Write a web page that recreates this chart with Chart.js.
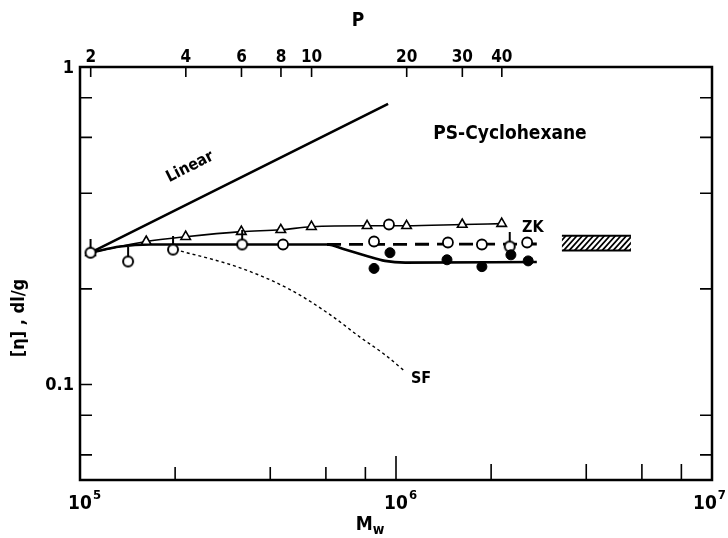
<!DOCTYPE html>
<html>
<head>
<meta charset="utf-8">
<script src="https://cdn.jsdelivr.net/npm/chart.js@4"></script>
<style>
  body { margin: 0; background: #fff; }
  #wrap { width: 728px; height: 538px; }
</style>
</head>
<body>
<div id="wrap"><canvas id="myChart" width="728" height="538"></canvas></div>
<script>
// Mw in g/mol, [eta] in dl/g
const linearMw = [1.08e5, 9.44e5];
const linearEta = [0.260, 0.765];

const zkMw = [1.08e5, 1.62e5, 2.16e5, 3.24e5, 4.32e5, 5.4e5, 8.1e5, 1.08e6, 1.62e6, 2.16e6];
const zkEta = [0.260, 0.282, 0.292, 0.303, 0.307, 0.314, 0.316, 0.316, 0.319, 0.321];

const theoryMw = [1.08e5, 1.34e5, 1.67e5, 2.4e5, 4.97e5, 6.05e5, 6.9e5, 7.98e5, 9.23e5, 1.07e6, 2.79e6];
const theoryEta = [0.260, 0.272, 0.276, 0.276, 0.276, 0.276, 0.266, 0.255, 0.245, 0.242, 0.243];

const dashMw = [6.05e5, 2.79e6];
const dashEta = [0.276, 0.277];

const sfMw = [2.0e5, 3.21e5, 4.62e5, 6.18e5, 7.69e5, 9.23e5, 1.067e6];
const sfEta = [0.266, 0.233, 0.199, 0.166, 0.141, 0.124, 0.110];

const openMw = [4.39e5, 8.52e5, 9.5e5, 1.46e6, 1.87e6, 2.60e6];
const openEta = [0.276, 0.282, 0.319, 0.280, 0.276, 0.280];

const pipMw = [1.08e5, 1.42e5, 1.97e5, 3.26e5, 2.29e6];
const pipEta = [0.260, 0.244, 0.266, 0.276, 0.272];

const filledMw = [8.52e5, 9.57e5, 1.45e6, 1.87e6, 2.31e6, 2.62e6];
const filledEta = [0.232, 0.260, 0.247, 0.235, 0.256, 0.245];

// theta-solvent range, drawn as a hatched bar
const hatchMw = [3.35e6, 5.54e6];
const hatchEta = [0.264, 0.294];

// axes
const mwRange = [1e5, 1e7];
const etaRange = [0.05, 1];
const pRange = [1.85, 185];
const mwTicks = [2e5, 4e5, 6e5, 8e5, 1e6, 2e6, 4e6, 6e6, 8e6];
const mwLabels = [[1e5, "5"], [1e6, "6"], [1e7, "7"]];
const etaTicks = [0.8, 0.6, 0.4, 0.2, 0.1, 0.08, 0.06];
const etaLabels = [[1, "1"], [0.1, "0.1"]];
const pTicks = [2, 4, 6, 8, 10, 20, 30, 40];

const FONT = '"Liberation Sans Narrow", "DejaVu Sans Condensed", "Arial Narrow", sans-serif';

function xy(mw, eta) {
  return mw.map((m, i) => ({ x: m, y: eta[i] }));
}

// open circle with a short stem on top
function pipCircle() {
  const c = document.createElement("canvas");
  c.width = 14; c.height = 28;
  const g = c.getContext("2d");
  g.strokeStyle = "#000"; g.lineWidth = 2;
  g.beginPath(); g.moveTo(7, 0); g.lineTo(7, 9); g.stroke();
  g.beginPath(); g.arc(7, 14, 5, 0, Math.PI * 2);
  g.fillStyle = "#fff"; g.fill(); g.stroke();
  return c;
}

const frame = {
  id: "frame",
  beforeDatasetsDraw(chart) {
    const { ctx, scales } = chart;
    const x = scales.x, y = scales.y;
    const x1 = x.getPixelForValue(hatchMw[0]), x2 = x.getPixelForValue(hatchMw[1]);
    const y1 = y.getPixelForValue(hatchEta[1]), y2 = y.getPixelForValue(hatchEta[0]);
    const h = y2 - y1;
    ctx.save();
    ctx.strokeStyle = "#000";
    ctx.lineWidth = 1.8;
    ctx.beginPath();
    ctx.rect(x1, y1, x2 - x1, h);
    ctx.clip();
    ctx.beginPath();
    for (let s = x1 - h; s < x2 + h; s += 5.5) {
      ctx.moveTo(s, y2);
      ctx.lineTo(s + h * 0.9, y1);
    }
    ctx.stroke();
    ctx.restore();
    ctx.save();
    ctx.lineWidth = 2;
    ctx.beginPath();
    ctx.moveTo(x1, y1); ctx.lineTo(x2, y1);
    ctx.moveTo(x1, y2); ctx.lineTo(x2, y2);
    ctx.stroke();
    ctx.restore();
  },
  afterDraw(chart) {
    const { ctx, chartArea: a, scales } = chart;
    const x = scales.x, y = scales.y, p = scales.p;
    ctx.save();
    ctx.strokeStyle = "#000";
    ctx.fillStyle = "#000";
    ctx.lineWidth = 2.5;
    ctx.strokeRect(a.left, a.top, a.right - a.left, a.bottom - a.top);

    ctx.lineWidth = 1.6;
    ctx.beginPath();
    mwTicks.forEach((v) => {
      const px = x.getPixelForValue(v);
      const len = v === 1e6 ? 24 : (v > 1e6 ? 16 : 13);
      ctx.moveTo(px, a.bottom); ctx.lineTo(px, a.bottom - len);
    });
    etaTicks.forEach((v) => {
      const py = y.getPixelForValue(v);
      ctx.moveTo(a.left, py); ctx.lineTo(a.left + 12, py);
      if (v !== 0.1) { ctx.moveTo(a.right, py); ctx.lineTo(a.right - 12, py); }
    });
    pTicks.forEach((v) => {
      const px = p.getPixelForValue(v);
      ctx.moveTo(px, a.top); ctx.lineTo(px, a.top + 10);
    });
    ctx.stroke();

    // tick labels, 10^n with the mantissa centred on the tick
    ctx.textBaseline = "alphabetic";
    mwLabels.forEach(([v, e]) => {
      let px = x.getPixelForValue(v);
      ctx.font = "bold 19px " + FONT;
      const w = ctx.measureText("10").width;
      ctx.font = "bold 13px " + FONT;
      const we = ctx.measureText(e).width;
      px = Math.min(px, chart.width - we - w / 2 - 3);
      ctx.textAlign = "left";
      ctx.font = "bold 19px " + FONT;
      ctx.fillText("10", px - w / 2, a.bottom + 29);
      ctx.font = "bold 13px " + FONT;
      ctx.fillText(e, px + w / 2 + 1, a.bottom + 19);
    });
    ctx.font = "bold 18px " + FONT;
    ctx.textAlign = "right";
    ctx.textBaseline = "middle";
    etaLabels.forEach(([v, t]) => {
      ctx.fillText(t, a.left - 6, y.getPixelForValue(v) + 1);
    });
    ctx.textAlign = "center";
    ctx.textBaseline = "alphabetic";
    ctx.font = "bold 17px " + FONT;
    pTicks.forEach((v) => {
      ctx.fillText(String(v), p.getPixelForValue(v), a.top - 5);
    });

    // axis titles
    ctx.font = "bold 19px " + FONT;
    ctx.fillText("P", 358, 26);
    ctx.textAlign = "left";
    const mW = ctx.measureText("M").width;
    ctx.font = "bold 14px " + FONT;
    const wW = ctx.measureText("w").width;
    const mx = 370 - (mW + wW) / 2;
    ctx.font = "bold 19px " + FONT;
    ctx.fillText("M", mx, 530);
    ctx.font = "bold 14px " + FONT;
    ctx.fillText("w", mx + mW, 534);

    ctx.save();
    ctx.translate(24, 318);
    ctx.rotate(-Math.PI / 2);
    ctx.textAlign = "center";
    ctx.font = "bold 18px " + FONT;
    ctx.fillText("[η] , dl/g", 0, 0);
    ctx.restore();

    // curve labels
    ctx.font = "bold 19px " + FONT;
    ctx.textAlign = "center";
    ctx.textBaseline = "middle";
    ctx.fillText("PS-Cyclohexane", 510, 134);
    ctx.font = "bold 16px " + FONT;
    ctx.textAlign = "left";
    ctx.fillText("ZK", 522, 228);
    ctx.fillText("SF", 411, 379);
    ctx.save();
    ctx.translate(190, 167);
    ctx.rotate(-0.47);
    ctx.textAlign = "center";
    ctx.fillText("Linear", 0, 0);
    ctx.restore();
    ctx.restore();
  },
};

const ctx = document.getElementById("myChart").getContext("2d");
const myChart = new Chart(ctx, {
  type: "scatter",
  data: {
    datasets: [
      {
        data: xy(filledMw, filledEta),
        pointStyle: "circle", pointRadius: 5,
        backgroundColor: "#000", borderColor: "#000", borderWidth: 1,
        showLine: false,
      },
      {
        data: xy(pipMw, pipEta),
        pointStyle: pipCircle(),
        showLine: false,
      },
      {
        data: xy(openMw, openEta),
        pointStyle: "circle", pointRadius: 5,
        backgroundColor: "#fff", borderColor: "#000", borderWidth: 1.8,
        showLine: false,
      },
      {
        data: xy(zkMw, zkEta),
        pointStyle: "triangle", pointRadius: 5.5,
        backgroundColor: "#fff", borderColor: "#000", borderWidth: 1.6,
        showLine: true, cubicInterpolationMode: "monotone",
      },
      {
        data: xy(dashMw, dashEta),
        pointRadius: 0, borderColor: "#000", borderWidth: 2.8,
        borderDash: [14, 8], showLine: true,
      },
      {
        data: xy(theoryMw, theoryEta),
        pointRadius: 0, borderColor: "#000", borderWidth: 2.6,
        showLine: true, cubicInterpolationMode: "monotone",
      },
      {
        data: xy(sfMw, sfEta),
        pointRadius: 0, borderColor: "#000", borderWidth: 1.4,
        borderDash: [3, 3], showLine: true, cubicInterpolationMode: "monotone",
      },
      {
        data: xy(linearMw, linearEta),
        pointRadius: 0, borderColor: "#000", borderWidth: 2.6,
        showLine: true,
      },
    ],
  },
  options: {
    responsive: false,
    animation: false,
    devicePixelRatio: 1,
    layout: { padding: { left: 80, right: 16, top: 67, bottom: 58 } },
    plugins: { legend: { display: false }, tooltip: { enabled: false } },
    scales: {
      x: { type: "logarithmic", min: mwRange[0], max: mwRange[1], display: false },
      p: { type: "logarithmic", position: "top", axis: "x", min: pRange[0], max: pRange[1], display: false },
      y: { type: "logarithmic", min: etaRange[0], max: etaRange[1], display: false },
    },
  },
  plugins: [frame],
});
</script>
</body>
</html>
